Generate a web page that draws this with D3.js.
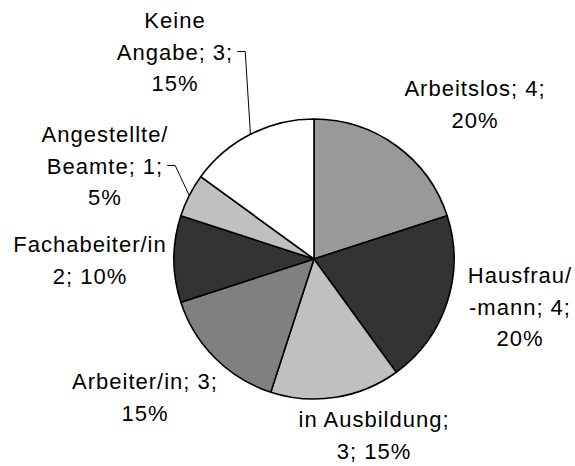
<!DOCTYPE html>
<html>
<head>
<meta charset="utf-8">
<script src="https://cdn.jsdelivr.net/npm/d3@7"></script>
<style>
	body { margin: 0; background: #fff; }
	svg { display: block; }
	.lbl { font-family: "Liberation Sans", Arial, sans-serif; font-size: 22px; letter-spacing: 1px; fill: #000; }
</style>
</head>
<body>
<svg class="pie"></svg>
<script>
// data
const categories = ["Arbeitslos", "Hausfrau/-mann", "in Ausbildung", "Arbeiter/in", "Fachabeiter/in", "Angestellte/Beamte", "Keine Angabe"];
const counts = [4, 4, 3, 3, 2, 1, 3];
const shares = [20, 20, 15, 15, 10, 5, 15];
const fills = ["#999999", "#333333", "#c0c0c0", "#808080", "#333333", "#c0c0c0", "#ffffff"];
// label text as it wraps in the picture
const labelLines = [
	["Arbeitslos; 4;", "20%"],
	["Hausfrau/", "-mann; 4;", "20%"],
	["in Ausbildung;", "3; 15%"],
	["Arbeiter/in; 3;", "15%"],
	["Fachabeiter/in", "2; 10%"],
	["Angestellte/", "Beamte; 1;", "5%"],
	["Keine", "Angabe; 3;", "15%"]
];

var drawPie = () => {
	var width = 575,
		height = 466,
		cx = 314,
		cy = 259,
		radius = 140,
		lineH = 31.5;

	var svg = d3.select(".pie").attr("width", width).attr("height", height);
	var g = svg.append("g").attr("transform", `translate(${cx},${cy})`);

	var data = categories.map((c, i) => ({ cat: c, n: counts[i], pct: shares[i], fill: fills[i], lines: labelLines[i] }));

	var pie = d3.pie().sort(null).value((d) => d.n);
	var arc = d3.arc().innerRadius(0).outerRadius(radius);
	var arcs = pie(data);

	g.selectAll("path.slice")
		.data(arcs)
		.join("path")
		.attr("class", "slice")
		.attr("d", arc)
		.attr("fill", (d) => d.data.fill)
		.attr("stroke", "#000")
		.attr("stroke-width", 1.6)
		.attr("stroke-linejoin", "round");

	// where excel left each label (first baseline, relative to the pie centre)
	var labelAt = [
		[161, -163],
		[206, 24],
		[60, 168],
		[-169, 130],
		[-224, -7],
		[-209, -117],
		[-139, -231]
	];

	var labels = g.selectAll("text.lbl")
		.data(arcs)
		.join("text")
		.attr("class", "lbl")
		.attr("text-anchor", "middle")
		.attr("transform", (d, i) => `translate(${labelAt[i][0]},${labelAt[i][1]})`);

	labels.selectAll("tspan")
		.data((d) => d.data.lines)
		.join("tspan")
		.attr("x", 0)
		.attr("y", (d, i) => i * lineH)
		.text((d) => d);

	// leader lines for the two labels that were dragged away
	var leaders = [5, 6];
	leaders.forEach((i) => {
		var a = arcs[i];
		var mid = (a.startAngle + a.endAngle) / 2;
		var tip = [radius * Math.sin(mid), -radius * Math.cos(mid)];
		var t = labels.filter((d, j) => j === i).selectAll("tspan").nodes()[1];
		var w = t.getComputedTextLength();
		var x0 = labelAt[i][0] + w / 2 + 4;
		var y0 = labelAt[i][1] + lineH - 8;
		g.append("path")
			.attr("d", d3.line()([[x0, y0], [x0 + 8, y0], tip]))
			.attr("fill", "none")
			.attr("stroke", "#000")
			.attr("stroke-width", 1);
	});
};

drawPie();
</script>
</body>
</html>
